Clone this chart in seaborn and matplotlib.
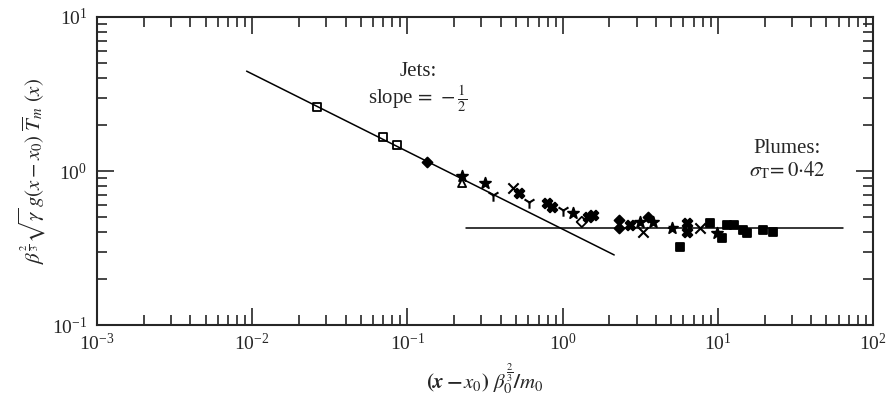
import matplotlib
matplotlib.use('Agg')
import matplotlib.pyplot as plt
import seaborn as sns
import pandas as pd

# Dados (escala log-log)
sq_x = [0.0262, 0.0697, 0.0857]
sq_y = [2.61, 1.66, 1.47]
dia_x = [0.134, 2.31, 3.55, 2.31]
dia_y = [1.14, 0.48, 0.503, 0.427]
tri_x = [0.225]
tri_y = [0.836]
star_x = [0.225, 0.316, 1.17, 3.15, 5.07, 9.88, 3.82]
star_y = [0.93, 0.836, 0.533, 0.467, 0.427, 0.396, 0.467]
ymk_x = [0.357, 0.608, 1.01]
ymk_y = [0.698, 0.629, 0.558]
xmk_x = [0.479, 3.30, 7.68]
xmk_y = [0.776, 0.402, 0.427]
bow_x = [0.523, 0.795, 0.855, 1.46, 1.57, 6.34, 6.34, 2.72]
bow_y = [0.72, 0.62, 0.583, 0.503, 0.518, 0.46, 0.402, 0.446]
odia_x = [1.33]
odia_y = [0.467]
sqx_x = [5.70, 19.5, 22.7, 14.5, 15.5, 10.7, 11.5, 12.7, 8.91]
sqx_y = [0.321, 0.414, 0.402, 0.414, 0.396, 0.367, 0.446, 0.446, 0.46]
z_x = [4.44]
z_y = [0.414]

jet_line_x = [0.0092, 2.15]
jet_line_y = [4.45, 0.285]
plume_line_x = [0.24, 64]
plume_line_y = [0.425, 0.425]

sns.set_style('ticks')
plt.rcParams['font.family'] = ['Liberation Serif', 'DejaVu Serif']
plt.rcParams['mathtext.fontset'] = 'stix'

fig = plt.figure(figsize=(8.87, 3.98), dpi=100)
ax = fig.add_axes([0.1094, 0.1834, 0.8748, 0.7739])

# Linhas de referência
sns.lineplot(x=jet_line_x, y=jet_line_y, ax=ax, color='black', linewidth=1.1)
sns.lineplot(x=plume_line_x, y=plume_line_y, ax=ax, color='black', linewidth=1.1)

# Pontos
grupos = [
    (sq_x, sq_y, 's', 'none', 32),
    (dia_x, dia_y, 'D', 'black', 26),
    (tri_x, tri_y, '^', 'none', 34),
    (star_x, star_y, '*', 'black', 70),
    (ymk_x, ymk_y, '1', 'black', 80),
    (xmk_x, xmk_y, 'x', 'black', 55),
    (bow_x, bow_y, 'X', 'black', 50),
    (odia_x, odia_y, 'D', 'none', 28),
    (sqx_x, sqx_y, 's', 'black', 30),
    (z_x, z_y, '$Z$', 'black', 40),
]
for gx, gy, mk, fc, s in grupos:
    df = pd.DataFrame({'x': gx, 'y': gy})
    if mk in ('1', 'x', '$Z$'):
        sns.scatterplot(data=df, x='x', y='y', ax=ax, marker=mk, color='black',
                        s=s, linewidth=1.5)
    else:
        sns.scatterplot(data=df, x='x', y='y', ax=ax, marker=mk, facecolor=fc,
                        edgecolor='black', s=s, linewidth=1.3)

ax.set_xscale('log')
ax.set_yscale('log')
ax.set_xlim(1e-3, 1e2)
ax.set_ylim(1e-1, 1e1)

for sp in ax.spines.values():
    sp.set_linewidth(1.5)
    sp.set_visible(True)
ax.tick_params(which='both', direction='in', top=True, right=True, width=1.2,
               labelsize=14)
ax.tick_params(which='major', length=12)
ax.tick_params(which='minor', length=7)
ax.tick_params(axis='x', which='major', pad=6)
ax.tick_params(axis='y', which='major', pad=7)

# Textos
ax.text(0.117, 3.45, 'Jets:\nslope$\\,=\\,-\\frac{1}{2}$', ha='center', va='center',
        fontsize=15, linespacing=1.1, multialignment='center')
ax.text(27.9, 1.18, 'Plumes:\n$\\sigma_{\\rm T}\\!=0{\\cdot}42$', ha='center', va='center',
        fontsize=15, linespacing=1.1, multialignment='center')

ax.set_xlabel(r'$\boldsymbol{(x-x_0)\ \beta_0^{\frac{2}{3}}/m_0}$',
              fontsize=15, labelpad=5)
ax.set_ylabel(r'$\beta^{\frac{2}{3}}\sqrt{\gamma}\,g(x-x_0)\ \overline{T}_m\ (x)$',
              fontsize=15, labelpad=3)

plt.savefig('out.png', dpi=100)
